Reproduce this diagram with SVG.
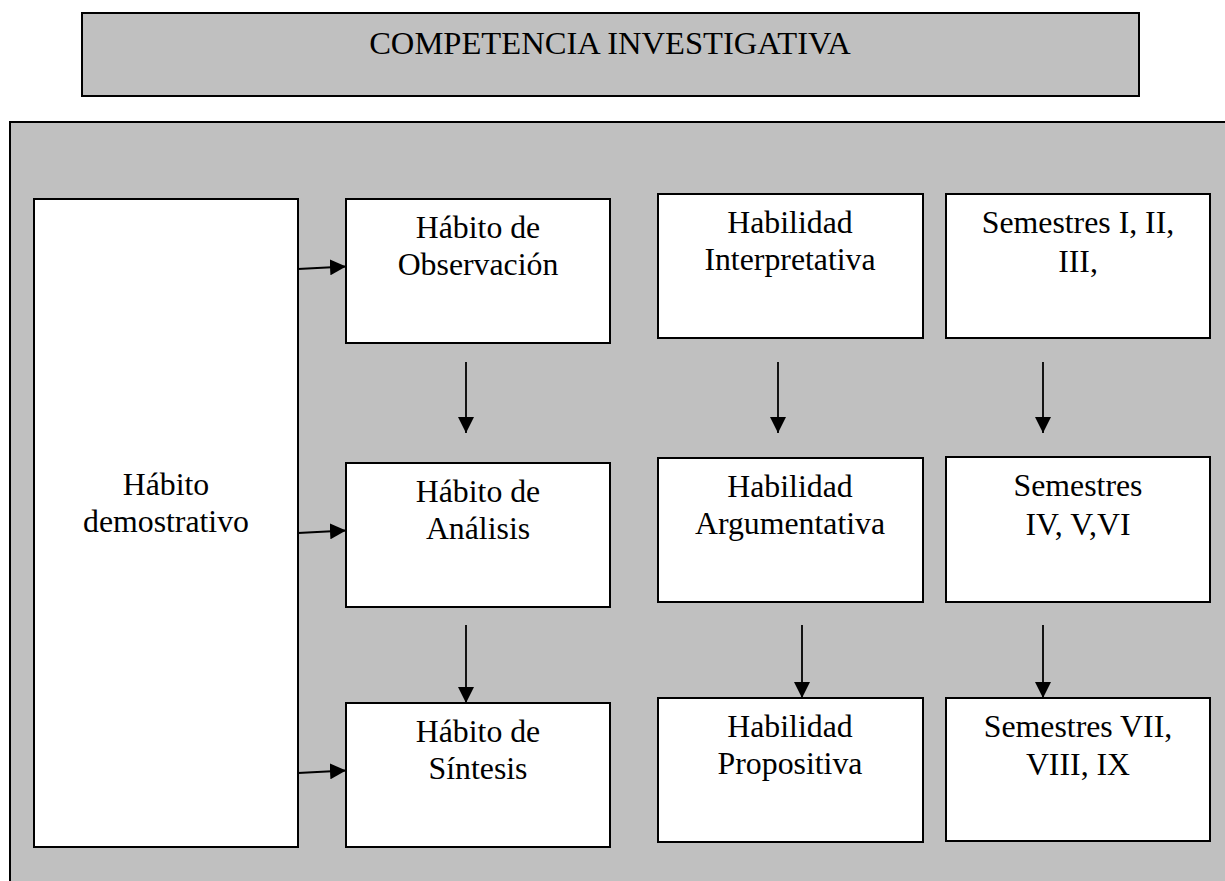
<svg xmlns="http://www.w3.org/2000/svg" width="1225" height="881" viewBox="0 0 1225 881">
<defs>
<style>
.frame{fill:#c0c0c0;stroke:#000;stroke-width:2}
.box{fill:#fff;stroke:#000;stroke-width:2}
.t{font-family:"Liberation Serif","Times New Roman",serif;font-size:31.8px;fill:#000;text-anchor:middle}
.title{font-size:32.6px}
.conn line{stroke:#000;stroke-width:1.8;marker-end:url(#ah)}
</style>
<marker id="ah" markerUnits="userSpaceOnUse" markerWidth="16" markerHeight="16" viewBox="0 0 15 15" refX="15" refY="7.5" orient="auto">
<path d="M0,0 L15,7.5 L0,15 z" fill="#000"/>
</marker>
</defs>
<rect width="1225" height="881" fill="#fff"/>
<g id="title">
<rect class="frame" x="82" y="13" width="1057" height="83"/>
<text class="t title" x="610" y="54">COMPETENCIA INVESTIGATIVA</text>
</g>
<g id="panel">
<rect class="frame" x="10" y="122" width="1240" height="780"/>
</g>
<g id="habito-demostrativo">
<rect class="box" x="34" y="199" width="264" height="648"/>
<text class="t" x="166" y="495">Hábito</text>
<text class="t" x="166" y="532">demostrativo</text>
</g>
<g id="habito-observacion">
<rect class="box" x="346" y="199" width="264" height="144"/>
<text class="t" x="478" y="238">Hábito de</text>
<text class="t" x="478" y="275">Observación</text>
</g>
<g id="habito-analisis">
<rect class="box" x="346" y="463" width="264" height="144"/>
<text class="t" x="478" y="502">Hábito de</text>
<text class="t" x="478" y="539">Análisis</text>
</g>
<g id="habito-sintesis">
<rect class="box" x="346" y="703" width="264" height="144"/>
<text class="t" x="478" y="742">Hábito de</text>
<text class="t" x="478" y="779">Síntesis</text>
</g>
<g id="habilidad-interpretativa">
<rect class="box" x="658" y="194" width="265" height="144"/>
<text class="t" x="790" y="233">Habilidad</text>
<text class="t" x="790" y="270">Interpretativa</text>
</g>
<g id="habilidad-argumentativa">
<rect class="box" x="658" y="458" width="265" height="144"/>
<text class="t" x="790" y="497">Habilidad</text>
<text class="t" x="790" y="534">Argumentativa</text>
</g>
<g id="habilidad-propositiva">
<rect class="box" x="658" y="698" width="265" height="144"/>
<text class="t" x="790" y="737">Habilidad</text>
<text class="t" x="790" y="774">Propositiva</text>
</g>
<g id="semestres-1">
<rect class="box" x="946" y="194" width="264" height="144"/>
<text class="t" x="1078" y="233">Semestres I, II,</text>
<text class="t" x="1078" y="272">III,</text>
</g>
<g id="semestres-2">
<rect class="box" x="946" y="457" width="264" height="145"/>
<text class="t" x="1078" y="496">Semestres</text>
<text class="t" x="1078" y="535">IV, V,VI</text>
</g>
<g id="semestres-3">
<rect class="box" x="946" y="698" width="264" height="143"/>
<text class="t" x="1078" y="737">Semestres VII,</text>
<text class="t" x="1078" y="775">VIII, IX</text>
</g>
<g id="connectors" class="conn">
<line x1="298" y1="269" x2="346" y2="266.5"/>
<line x1="298" y1="533" x2="346" y2="530.5"/>
<line x1="298" y1="773" x2="346" y2="770.5"/>
<line x1="466" y1="362" x2="466" y2="433"/>
<line x1="466" y1="625" x2="466" y2="703"/>
<line x1="778" y1="362" x2="778" y2="433"/>
<line x1="802" y1="625" x2="802" y2="698"/>
<line x1="1043" y1="362" x2="1043" y2="433"/>
<line x1="1043" y1="625" x2="1043" y2="698"/>
</g>
</svg>
